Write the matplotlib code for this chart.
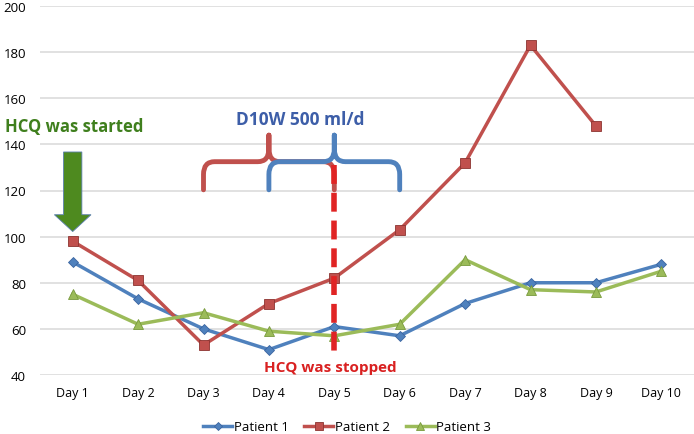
import numpy as np
import matplotlib
matplotlib.use('Agg')
import matplotlib.pyplot as plt
from matplotlib.path import Path
from matplotlib.patches import PathPatch, Polygon

# ---- data ----
days = ['Day 1', 'Day 2', 'Day 3', 'Day 4', 'Day 5', 'Day 6', 'Day 7', 'Day 8', 'Day 9', 'Day 10']
patient1 = [89, 73, 60, 51, 61, 57, 71, 80, 80, 88]
patient2 = [98, 81, 53, 71, 82, 103, 132, 183, 148, np.nan]
patient3 = [75, 62, 67, 59, 57, 62, 90, 77, 76, 85]
yticks = [40, 60, 80, 100, 120, 140, 160, 180, 200]

blue = '#4f81bd'
red = '#c0504d'
green = '#9bbb59'

plt.rcParams['font.family'] = ['Open Sans', 'DejaVu Sans']

fig = plt.figure(figsize=(6.94, 4.35), dpi=100)
ax = fig.add_axes([40/694, 1 - 376/435, 654/694, 369/435])

x = np.arange(1, len(days) + 1)

ax.plot(x, patient1, color=blue, lw=2.5, marker='D', ms=5, mfc=blue, mec='#3a64a0', mew=0.6, label='Patient 1', zorder=3)
ax.plot(x, patient2, color=red, lw=2.5, marker='s', ms=7, mfc=red, mec='#8c3431', mew=0.6, label='Patient 2', zorder=3)
ax.plot(x, patient3, color=green, lw=2.5, marker='^', ms=7, mfc=green, mec='#789a3c', mew=0.6, label='Patient 3', zorder=3)

ax.set_xlim(0.5, 10.5)
ax.set_ylim(40, 200)
ax.set_xticks(x)
ax.set_xticklabels(days, fontsize=9)
ax.set_yticks(yticks)
ax.set_yticklabels([str(v) for v in yticks], fontsize=9.5)
ax.tick_params(length=0, pad=8)
ax.tick_params(axis='y', pad=10)
for s in ax.spines.values():
    s.set_visible(False)
ax.grid(axis='y', color='#dcdcdc', lw=1.2)
ax.set_axisbelow(True)


def brace(x0, xm, x1, yb, yh, yp, color):
    # curly bracket with rounded corners, in data coordinates
    rx, ry = 0.17, 5.5
    verts = [(x0, yb), (x0, yh - ry), (x0, yh), (x0 + rx, yh),
             (xm - rx, yh), (xm, yh), (xm, yh + ry), (xm, yp),
             (xm, yh + ry), (xm, yh), (xm + rx, yh),
             (x1 - rx, yh), (x1, yh), (x1, yh - ry), (x1, yb)]
    codes = [Path.MOVETO, Path.LINETO, Path.CURVE3, Path.CURVE3,
             Path.LINETO, Path.CURVE3, Path.CURVE3, Path.LINETO,
             Path.LINETO, Path.CURVE3, Path.CURVE3,
             Path.LINETO, Path.CURVE3, Path.CURVE3, Path.LINETO]
    p = PathPatch(Path(verts, codes), fill=False, ec=color, lw=3.5,
                  capstyle='round', joinstyle='round', zorder=4)
    ax.add_patch(p)


brace(3, 4, 5, 120.3, 132.5, 144, red)
brace(4, 5, 6, 120.3, 132.5, 144, blue)

# HCQ stopped dashed line
ax.plot([5, 5], [131, 47], color='#e02424', lw=4, dashes=(3.4, 1.6), zorder=5)

# green arrow
arrow = Polygon([(0.86, 136.7), (1.14, 136.7), (1.14, 109.5), (1.28, 109.5),
                 (1.0, 102.2), (0.72, 109.5), (0.86, 109.5)],
                closed=True, fc='#4e8a1f', ec='#5b7fb0', lw=0.6, zorder=5)
ax.add_patch(arrow)

fig.text(5/694, 1 - 127/435, 'HCQ was started', color='#3f7f1d', fontsize=12,
         fontweight='bold', va='center', ha='left')
fig.text(300/694, 1 - 120/435, 'D10W 500 ml/d', color='#3d5ea8', fontsize=12.5,
         fontweight='bold', va='center', ha='center')
fig.text(330/694, 1 - 368/435, 'HCQ was stopped', color='#d92121', fontsize=11,
         fontweight='bold', va='center', ha='center')

fig.legend(loc='center', bbox_to_anchor=(0.5, 1 - 428/435), ncol=3, frameon=False,
           fontsize=9.5, handlelength=2.2, handletextpad=0.1, columnspacing=1.2,
           markerscale=0.8)

fig.savefig('out.png', dpi=100)
